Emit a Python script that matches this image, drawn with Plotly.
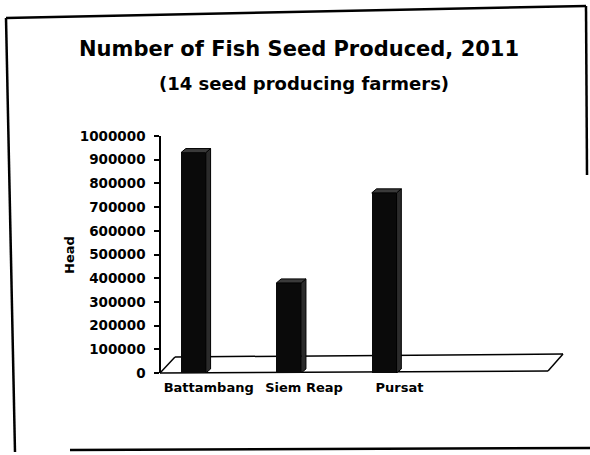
import plotly.graph_objects as go

# ---- data -------------------------------------------------------------
provinces = ["Battambang", "Siem Reap", "Pursat"]
fish_seed = [930000, 380000, 760000]
y_tick_values = [0, 100000, 200000, 300000, 400000, 500000,
                 600000, 700000, 800000, 900000, 1000000]

title_text = "Number of Fish Seed Produced, 2011"
subtitle_text = "(14 seed producing farmers)"
y_title = "Head"

# ---- geometry / style -------------------------------------------------
W, H = 590, 455
PL, PR, PT, PB = 161, 552, 136, 373          # plot area in pixels
FONT = "DejaVu Sans"

FRONT_L, FRONT_W = -0.29, 0.26                # bar front face, in category units
DEPTH_X, DEPTH_Y = 0.05, 17000                # bar depth offset (x in categories, y in value units)


def px(x):
    return (x - PL) / (PR - PL)


def py(y):
    return (PB - y) / (PB - PT)


idx = list(range(len(provinces)))

fig = go.Figure()

# front faces
fig.add_trace(go.Bar(
    x=idx, y=fish_seed, width=FRONT_W, offset=FRONT_L,
    marker=dict(color="#0a0a0a", line=dict(width=0)),
    hoverinfo="skip", showlegend=False,
))

# side and top faces of each column
for i, v in zip(idx, fish_seed):
    xl = i + FRONT_L
    xr = xl + FRONT_W
    fig.add_trace(go.Scatter(
        x=[xr, xr + DEPTH_X, xr + DEPTH_X, xr, xr],
        y=[0, DEPTH_Y, v + DEPTH_Y, v, 0],
        fill="toself", fillcolor="#2b2b2b", mode="lines",
        line=dict(color="#000000", width=1),
        hoverinfo="skip", showlegend=False,
    ))
    fig.add_trace(go.Scatter(
        x=[xl, xl + DEPTH_X, xr + DEPTH_X, xr, xl],
        y=[v, v + DEPTH_Y, v + DEPTH_Y, v, v],
        fill="toself", fillcolor="#3a3a3a", mode="lines",
        line=dict(color="#000000", width=1),
        hoverinfo="skip", showlegend=False,
    ))

shapes = []

# floor of the 3-D plot, drawn beneath the columns
floor_pts = [(160, 373), (175, 357), (563, 354), (548, 371)]
for (x0, y0), (x1, y1) in zip(floor_pts, floor_pts[1:] + floor_pts[:1]):
    shapes.append(dict(type="line", xref="paper", yref="paper", layer="below",
                       x0=px(x0), y0=py(y0), x1=px(x1), y1=py(y1),
                       line=dict(color="black", width=1.5)))

# outer chart frame
frame = [((6, 18), (586, 6)), ((6, 18), (15, 452)),
         ((586, 6), (587, 175)), ((70, 450), (590, 448))]
for (x0, y0), (x1, y1) in frame:
    shapes.append(dict(type="line", xref="paper", yref="paper",
                       x0=px(x0), y0=py(y0), x1=px(x1), y1=py(y1),
                       line=dict(color="black", width=2.5)))

annotations = [
    dict(text=f"<b>{title_text}</b>", xref="paper", yref="paper",
         x=px(299), y=py(49), xanchor="center", yanchor="middle",
         showarrow=False, font=dict(family=FONT, size=21, color="black")),
    dict(text=f"<b>{subtitle_text}</b>", xref="paper", yref="paper",
         x=px(304), y=py(83), xanchor="center", yanchor="middle",
         showarrow=False, font=dict(family=FONT, size=18, color="black")),
    dict(text=f"<b>{y_title}</b>", xref="paper", yref="paper",
         x=px(69), y=py(255), xanchor="center", yanchor="middle",
         textangle=-90, showarrow=False,
         font=dict(family=FONT, size=13, color="black")),
]

fig.update_layout(
    width=W, height=H,
    margin=dict(l=PL, r=W - PR, t=PT, b=H - PB, pad=0),
    paper_bgcolor="white", plot_bgcolor="rgba(0,0,0,0)",
    shapes=shapes, annotations=annotations,
    bargap=0,
    xaxis=dict(
        range=[-0.5, 3.6], tickmode="array", tickvals=idx, ticktext=provinces,
        showgrid=False, zeroline=False, showline=False, ticks="",
        tickfont=dict(family=FONT, size=13, color="black", weight="bold"),
        ticklabelstandoff=5,
    ),
    yaxis=dict(
        range=[0, 1000000], tickmode="array", tickvals=y_tick_values,
        ticktext=[str(v) for v in y_tick_values],
        showgrid=False, zeroline=False, showline=True,
        linecolor="black", linewidth=1.5,
        ticks="outside", ticklen=5, tickcolor="black", tickwidth=1.5,
        tickfont=dict(family=FONT, size=13.5, color="black", weight="bold"),
        ticklabelstandoff=6,
    ),
)

fig.write_html("out.html")
